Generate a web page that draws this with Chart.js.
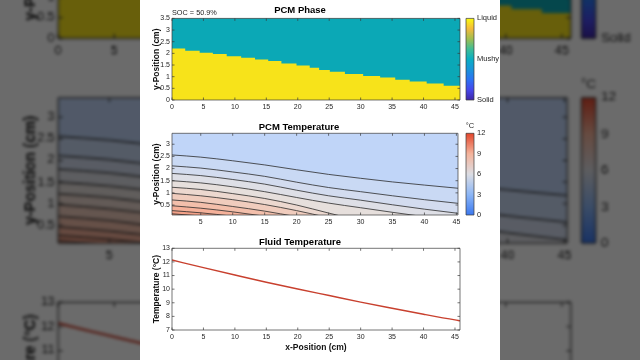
<!DOCTYPE html>
<html><head><meta charset="utf-8">
<script src="https://cdn.jsdelivr.net/npm/chart.js@4.4.1/dist/chart.umd.min.js"></script>
<style>
html,body{margin:0;padding:0;width:640px;height:360px;overflow:hidden;background:#6b6b6b;}
#stage{position:relative;width:640px;height:360px;overflow:hidden;}
.fig{position:absolute;left:0;top:0;width:640px;height:360px;}
#bg{transform-origin:318px 179px;transform:scale(1.78);filter:blur(1px) brightness(0.42);}
.panel{position:absolute;left:140px;top:0;width:360px;height:360px;background:#fff;}
canvas{position:absolute;}
</style></head><body>
<div id="stage"><div id="bg" class="fig"></div><div id="fg" class="fig"></div></div>
<script>
// ---------------- data ----------------
const socText = 'SOC = 50.9%';
const phaseEdges   = [0, 2.1, 4.4, 6.5, 8.7, 11.0, 13.2, 15.3, 17.4, 19.8, 21.9, 23.4, 25.1, 27.5, 30.4, 33.1, 35.5, 37.8, 40.5, 43.2, 45.8];
const phaseHeights = [2.21, 2.11, 2.03, 1.97, 1.88, 1.81, 1.74, 1.67, 1.57, 1.48, 1.38, 1.29, 1.21, 1.11, 1.03, 0.96, 0.87, 0.79, 0.71, 0.61];
const phaseLabels  = ['Solid', 'Mushy', 'Liquid'];
const phaseCbTicks = [0, 0.5, 1];

const xTicksFull   = [0, 5, 10, 15, 20, 25, 30, 35, 40, 45];
const xTicksContour= [5, 10, 15, 20, 25, 30, 35, 40, 45];
const yTicksPhase  = [0, 0.5, 1, 1.5, 2, 2.5, 3, 3.5];
const yTicksContour= [0.5, 1, 1.5, 2, 2.5, 3];
const yTicksFluid  = [7, 8, 9, 10, 11, 12, 13];
const tempCbTicks  = [0, 3, 6, 9, 12];

const contourX = [0.5, 5, 10, 15, 20, 25, 30, 35, 40, 45.25];
const level1  = [2.56, 2.47, 2.32, 2.15, 1.95, 1.76, 1.60, 1.45, 1.32, 1.19];
const level2  = [2.11, 2.02, 1.86, 1.68, 1.44, 1.22, 1.05, 0.88, 0.72, 0.57];
const level3  = [1.80, 1.71, 1.55, 1.36, 1.11, 0.88, 0.70, 0.51, 0.33, 0.16];
const level4  = [1.50, 1.41, 1.25, 1.05, 0.81, 0.58, 0.39, 0.20, 0.02, -0.18];
const level5  = [1.23, 1.14, 0.97, 0.77, 0.50, 0.17, -0.15];
const level6  = [0.98, 0.88, 0.72, 0.52, 0.27, -0.02];
const level7  = [0.71, 0.61, 0.44, 0.25, 0.02];
const level8  = [0.47, 0.37, 0.22, 0.04];
const level9  = [0.27, 0.18, 0.04];
const level10 = [0.14, 0.05];

const fluidX    = [0, 5, 10, 15, 20, 25, 30, 35, 40, 45, 45.8];
const fluidTemp = [12.14, 11.58, 11.04, 10.51, 10.01, 9.53, 9.05, 8.60, 8.16, 7.74, 7.68];

// ---------------- styles ----------------
const FONT = '"Liberation Sans", Arial, Helvetica, sans-serif';
const TXT = '#262626';
const YELLOW = '#f7e31a', TEAL = '#0ba8b6';
const bandColors = ['#c0d5f8', '#c9d9f4', '#d3dcef', '#dedfe6', '#e6dfdc', '#ecd8cf', '#f0ccbd', '#f3bfab', '#f5b19a', '#f3a188', '#ef9076'];
const parulaStops = [[0,'#3e26a8'],[0.125,'#4647eb'],[0.25,'#2c72f3'],[0.375,'#1994da'],[0.5,'#0aaec3'],[0.625,'#40bd96'],[0.75,'#a0be50'],[0.875,'#f5bb3c'],[1,'#f9fb0e']];
const tempStops = [[0,'#3b78ef'],[0.25,'#8cb6f6'],[0.5,'#dcdde3'],[0.75,'#f4b39b'],[1,'#e3462c']];

Chart.defaults.font.family = FONT;
Chart.defaults.animation = false;
Chart.defaults.color = TXT;

function mk(parent, left, top, w, h) {
  const c = document.createElement('canvas');
  c.width = w; c.height = h;
  c.style.left = left + 'px'; c.style.top = top + 'px';
  c.style.width = w + 'px'; c.style.height = h + 'px';
  parent.appendChild(c);
  return c;
}

function boxPlugin(drawTicks) {
  return {
    id: 'matBox',
    afterDatasetsDraw(chart) {
      const {ctx, chartArea: a, scales} = chart;
      ctx.save();
      ctx.strokeStyle = '#3a3a3a';
      ctx.lineWidth = 0.7;
      ctx.beginPath();
      if (drawTicks) {
        const L = 2.5;
        const xs = scales.x, ys = scales.y;
        xs.ticks.forEach(t => { const p = xs.getPixelForValue(t.value);
          ctx.moveTo(p, a.bottom); ctx.lineTo(p, a.bottom - L);
          ctx.moveTo(p, a.top); ctx.lineTo(p, a.top + L); });
        ys.ticks.forEach(t => { const p = ys.getPixelForValue(t.value);
          ctx.moveTo(a.left, p); ctx.lineTo(a.left + L, p);
          ctx.moveTo(a.right, p); ctx.lineTo(a.right - L, p); });
      }
      ctx.rect(a.left, a.top, a.width, a.height);
      ctx.stroke();
      ctx.restore();
    }
  };
}
function areaBgPlugin(color) {
  return { id: 'areaBg', beforeDatasetsDraw(chart) {
    const {ctx, chartArea: a} = chart;
    ctx.save(); ctx.fillStyle = color; ctx.fillRect(a.left, a.top, a.width, a.height); ctx.restore(); } };
}
function notePlugin(text, dx, dy, size, align) {
  return { id: 'note', afterDraw(chart) {
    const {ctx, chartArea: a} = chart;
    ctx.save(); ctx.font = size + 'px ' + FONT; ctx.fillStyle = TXT;
    ctx.textAlign = align; ctx.textBaseline = 'middle';
    const x = align === 'center' ? (a.left + a.right) / 2 + dx : a.left + dx;
    ctx.fillText(text, x, a.top + dy); ctx.restore(); } };
}
function gradientFill(stops) {
  return (c) => {
    const ch = c.chart, a = ch.chartArea;
    if (!a) return 'transparent';
    const g = ch.ctx.createLinearGradient(0, a.bottom, 0, a.top);
    stops.forEach(s => g.addColorStop(s[0], s[1]));
    return g;
  };
}

function xAxis(min, max, ticks, h, title) {
  return {
    type: 'linear', position: 'bottom', min, max,
    afterBuildTicks: s => { s.ticks = ticks.map(v => ({value: v})); },
    afterFit: s => { s.height = h; },
    grid: {display: false, drawTicks: false}, border: {display: false},
    ticks: {font: {size: 7}, color: TXT, padding: 3, maxRotation: 0, autoSkip: false, callback: v => String(v)},
    title: title ? {display: true, text: title, font: {size: 8.5, weight: 'bold'}, color: '#111', padding: {top: 0, bottom: 7.5}} : {display: false}
  };
}
function yAxis(min, max, ticks, title) {
  return {
    type: 'linear', position: 'left', min, max,
    afterBuildTicks: s => { s.ticks = ticks.map(v => ({value: v})); },
    afterFit: s => { s.width = 32; },
    grid: {display: false, drawTicks: false}, border: {display: false},
    ticks: {font: {size: 7}, color: TXT, padding: 2, autoSkip: false, callback: v => String(v)},
    title: {display: true, text: title, font: {size: 8.5, weight: 'bold'}, color: '#111', padding: {top: 12, bottom: 0}}
  };
}
function titleOpt(text, top, bottom) {
  return {display: true, text, font: {size: 9.5, weight: 'bold'}, color: '#000', padding: {top, bottom}};
}

function colorbar(parent, top, h, padTop, padBottom, stops, ticks, labelFn, note) {
  const c = mk(parent, 460, top, 60, h);
  const plugins = [boxPlugin(false)];
  if (note) plugins.push(notePlugin(note, 0, -7, 7.5, 'center'));
  new Chart(c, {
    type: 'bar',
    data: {labels: ['c'], datasets: [{data: [[ticks[0], ticks[ticks.length - 1]]], backgroundColor: gradientFill(stops), borderWidth: 0, barPercentage: 1, categoryPercentage: 1}]},
    options: {
      responsive: false, animation: false,
      layout: {padding: {left: 6, right: 0, top: padTop, bottom: padBottom}},
      plugins: {legend: {display: false}, tooltip: {enabled: false}},
      scales: {
        x: {display: false},
        y: {position: 'right', min: ticks[0], max: ticks[ticks.length - 1],
            afterBuildTicks: s => { s.ticks = ticks.map(v => ({value: v})); },
            afterFit: s => { s.width = 46; },
            grid: {display: false, drawTicks: false}, border: {display: false},
            ticks: {font: {size: 7.5}, color: TXT, padding: 3, callback: labelFn}}
      }
    },
    plugins
  });
}

function buildFigure(root) {
  const panel = document.createElement('div');
  panel.className = 'panel';
  root.appendChild(panel);

  // ---- PCM Phase ----
  const pts = phaseEdges.map((x, i) => ({x, y: phaseHeights[Math.min(i, phaseHeights.length - 1)]}));
  new Chart(mk(root, 140, 0, 360, 112), {
    type: 'line',
    data: {datasets: [{data: pts, stepped: true, fill: 'start', backgroundColor: YELLOW, borderColor: 'transparent', borderWidth: 0, pointRadius: 0}]},
    options: {
      responsive: false, animation: false,
      layout: {padding: {left: 0, right: 40, top: 0, bottom: 0}},
      plugins: {legend: {display: false}, tooltip: {enabled: false}, title: titleOpt('PCM Phase', 5, 2)},
      scales: {x: xAxis(0, 45.8, xTicksFull, 12), y: yAxis(0, 3.5, yTicksPhase, 'y-Position (cm)')}
    },
    plugins: [areaBgPlugin(TEAL), boxPlugin(true), notePlugin(socText, 0, -5.5, 7.3, 'left')]
  });
  colorbar(root, 0, 110, 18.4, 10, parulaStops, phaseCbTicks, (v, i) => phaseLabels[i], null);

  // ---- PCM Temperature ----
  const levels = [level1, level2, level3, level4, level5, level6, level7, level8, level9, level10];
  const ds = [];
  for (let k = levels.length - 1; k >= 0; k--) {
    const arr = levels[k];
    ds.push({data: arr.map((y, j) => ({x: contourX[j], y})), fill: 'start', backgroundColor: bandColors[k + 1],
      borderColor: '#2b2b2b', borderWidth: 0.8, pointRadius: 0, cubicInterpolationMode: 'monotone'});
  }
  new Chart(mk(root, 140, 115, 360, 112), {
    type: 'line',
    data: {datasets: ds},
    options: {
      responsive: false, animation: false,
      layout: {padding: {left: 0, right: 42, top: 0, bottom: 0}},
      plugins: {legend: {display: false}, tooltip: {enabled: false}, title: titleOpt('PCM Temperature', 6.5, 0.4)},
      scales: {x: xAxis(0.5, 45.25, xTicksContour, 12), y: yAxis(0.09, 3.45, yTicksContour, 'y-Position (cm)')}
    },
    plugins: [areaBgPlugin(bandColors[0]), boxPlugin(true)]
  });
  colorbar(root, 115, 112, 18.3, 12, tempStops, tempCbTicks, v => String(v), '°C');

  // ---- Fluid Temperature ----
  new Chart(mk(root, 140, 230, 360, 130), {
    type: 'line',
    data: {datasets: [{data: fluidX.map((x, i) => ({x, y: fluidTemp[i]})), borderColor: '#c8402e', borderWidth: 1.4, pointRadius: 0, cubicInterpolationMode: 'monotone', fill: false}]},
    options: {
      responsive: false, animation: false,
      layout: {padding: {left: 0, right: 40, top: 0, bottom: 0}},
      plugins: {legend: {display: false}, tooltip: {enabled: false}, title: titleOpt('Fluid Temperature', 6.5, 0.4)},
      scales: {x: xAxis(0, 45.8, xTicksFull, 30, 'x-Position (cm)'), y: yAxis(7, 13, yTicksFluid, 'Temperature (°C)')}
    },
    plugins: [boxPlugin(true)]
  });
}

buildFigure(document.getElementById('bg'));
buildFigure(document.getElementById('fg'));
</script>
</body></html>
